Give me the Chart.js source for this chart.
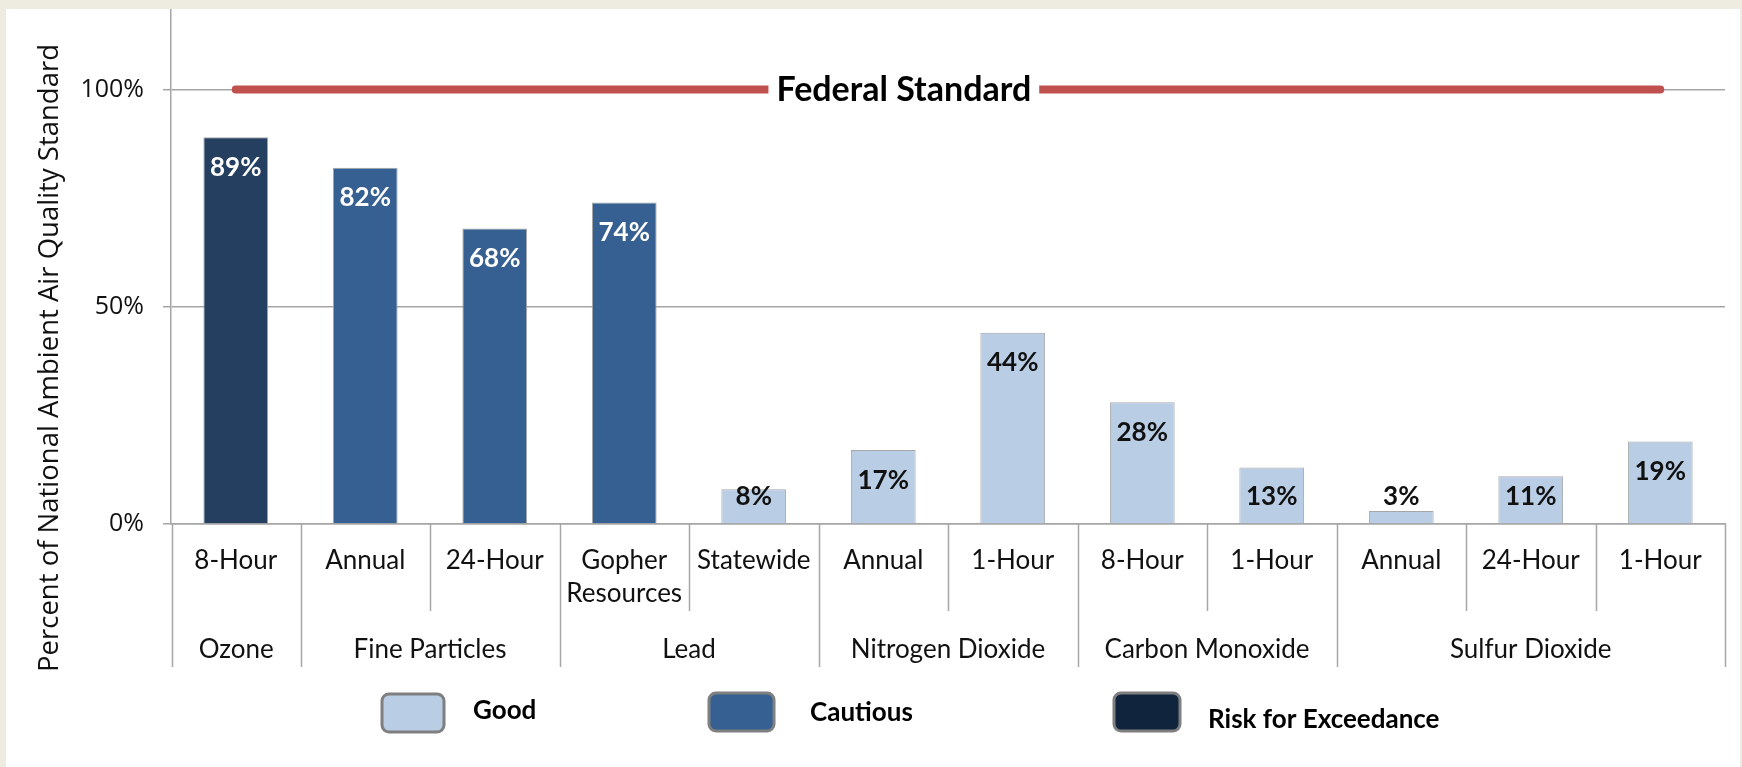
<!DOCTYPE html>
<html>
<head>
<meta charset="utf-8">
<title>Percent of National Ambient Air Quality Standard</title>
<script src="https://cdn.jsdelivr.net/npm/chart.js@4/dist/chart.umd.min.js"></script>
<style>
  html, body { margin: 0; padding: 0; background: #eeebe0; }
  #panel { position: absolute; left: 6px; top: 9px; width: 1734px; height: 758px; background: #ffffff; }
  canvas { display: block; }
</style>
</head>
<body>
<div id="panel"><canvas id="chart" width="1734" height="758"></canvas></div>
<script>
// Datos
const subLabels = ['8-Hour', 'Annual', '24-Hour', ['Gopher', 'Resources'], 'Statewide', 'Annual', '1-Hour', '8-Hour', '1-Hour', 'Annual', '24-Hour', '1-Hour'];
const groupNames = ['Ozone', 'Fine Particles', 'Lead', 'Nitrogen Dioxide', 'Carbon Monoxide', 'Sulfur Dioxide'];
const groupSpans = [1, 2, 2, 2, 2, 3];
const percentOfStandard = [89, 82, 68, 74, 8, 17, 44, 28, 13, 3, 11, 19];
const status = ['Risk', 'Cautious', 'Cautious', 'Cautious', 'Good', 'Good', 'Good', 'Good', 'Good', 'Good', 'Good', 'Good'];
const federalStandard = 100;
const federalLabel = 'Federal Standard';
const yTicks = [0, 50, 100];
const yTitle = 'Percent of National Ambient Air Quality Standard';
const legendLabels = ['Good', 'Cautious', 'Risk for Exceedance'];

const colors = {
  Good: '#b9cde5',
  Cautious: '#376092',
  Risk: '#253f60',
  riskLegend: '#10243e',
  barBorder: '#a6a6a6',
  grid: '#a6a6a6',
  federal: '#c0504d',
  text: '#111111',
};

const catFont = '26px Lato';
const labelFont = 'bold 26px Lato';

// Etiquetas de valor "inside end", sin bajar de la base
const valueLabels = {
  id: 'valueLabels',
  afterDatasetsDraw(chart) {
    const { ctx } = chart;
    const meta = chart.getDatasetMeta(1);
    ctx.save();
    ctx.font = labelFont;
    ctx.textAlign = 'center';
    ctx.textBaseline = 'middle';
    meta.data.forEach((el, i) => {
      const y = Math.min(el.y + 30, el.base - 27);
      ctx.fillStyle = status[i] === 'Good' ? '#111111' : '#ffffff';
      ctx.fillText(percentOfStandard[i] + '%', el.x, y);
    });
    ctx.restore();
  },
};

// Texto sobre la línea roja del estándar federal
const federalText = {
  id: 'federalText',
  afterDatasetsDraw(chart) {
    const { ctx } = chart;
    const pts = chart.getDatasetMeta(0).data;
    const x0 = pts[0].x, x1 = pts[pts.length - 1].x;
    const cx = x0 + (x1 - x0) * 0.469;
    const cy = chart.scales.y.getPixelForValue(federalStandard);
    ctx.save();
    ctx.font = 'bold 34px Lato';
    const w = ctx.measureText(federalLabel).width;
    ctx.fillStyle = '#ffffff';
    ctx.fillRect(cx - w / 2 - 8, cy - 8, w + 16, 16);
    ctx.fillStyle = '#000000';
    ctx.textAlign = 'center';
    ctx.textBaseline = 'middle';
    ctx.fillText(federalLabel, cx, cy + 1);
    ctx.restore();
  },
};

// Eje x de dos niveles: separadores y nombres de contaminante
const groupAxis = {
  id: 'groupAxis',
  afterDraw(chart) {
    const { ctx } = chart;
    const x = chart.scales.x;
    const base = chart.chartArea.bottom;
    const edge = (i) => {
      if (i <= 0) return x.left + 1;
      if (i >= subLabels.length) return x.right;
      return (x.getPixelForTick(i - 1) + x.getPixelForTick(i)) / 2;
    };
    const groupStarts = [];
    let acc = 0;
    groupSpans.forEach((s) => { groupStarts.push(acc); acc += s; });

    ctx.save();
    ctx.strokeStyle = colors.grid;
    ctx.lineWidth = 1.5;
    for (let i = 0; i <= subLabels.length; i++) {
      const isGroupEdge = i === subLabels.length || groupStarts.includes(i);
      const px = Math.round(edge(i)) + 0.5;
      ctx.beginPath();
      ctx.moveTo(px, base);
      ctx.lineTo(px, base + (isGroupEdge ? 143 : 87));
      ctx.stroke();
    }
    ctx.font = catFont;
    ctx.fillStyle = colors.text;
    ctx.textAlign = 'center';
    ctx.textBaseline = 'middle';
    groupNames.forEach((name, g) => {
      const a = edge(groupStarts[g]);
      const b = edge(groupStarts[g] + groupSpans[g]);
      ctx.fillText(name, (a + b) / 2, base + 126);
    });

    // título del eje y
    ctx.save();
    ctx.translate(44, 349);
    ctx.rotate(-Math.PI / 2);
    ctx.font = '27.5px "Open Sans"';
    ctx.fillStyle = colors.text;
    ctx.fillText(yTitle, 0, 0);
    ctx.restore();

    // leyenda
    const items = [
      { label: legendLabels[0], color: colors.Good, box: [376, 685, 62, 38], tx: 467, ty: 702 },
      { label: legendLabels[1], color: colors.Cautious, box: [703, 684, 65, 38], tx: 804, ty: 704 },
      { label: legendLabels[2], color: colors.riskLegend, box: [1108, 684, 66, 38], tx: 1202, ty: 711 },
    ];
    ctx.font = 'bold 26px Lato';
    ctx.textAlign = 'left';
    items.forEach((it) => {
      const [bx, by, bw, bh] = it.box;
      ctx.beginPath();
      ctx.roundRect(bx, by, bw, bh, 7);
      ctx.fillStyle = it.color;
      ctx.fill();
      ctx.lineWidth = 3;
      ctx.strokeStyle = '#7f7f7f';
      ctx.stroke();
      ctx.fillStyle = '#000000';
      ctx.fillText(it.label, it.tx, it.ty);
    });
    ctx.restore();
  },
};

new Chart(document.getElementById('chart'), {
  data: {
    labels: subLabels,
    datasets: [
      {
        type: 'line',
        label: federalLabel,
        data: subLabels.map(() => federalStandard),
        borderColor: colors.federal,
        borderWidth: 8,
        borderCapStyle: 'round',
        pointRadius: 0,
        order: 0,
      },
      {
        type: 'bar',
        label: 'Percent of standard',
        data: percentOfStandard,
        backgroundColor: status.map((s) => colors[s]),
        borderColor: colors.barBorder,
        borderWidth: 1,
        barPercentage: 0.5,
        categoryPercentage: 1,
        order: 1,
      },
    ],
  },
  options: {
    responsive: false,
    animation: false,
    layout: { padding: { left: 0, right: 15, top: 0, bottom: 0 } },
    plugins: { legend: { display: false }, tooltip: { enabled: false } },
    scales: {
      x: {
        offset: true,
        grid: { display: false, drawTicks: false },
        border: { display: true, color: colors.grid, width: 1.5 },
        ticks: {
          font: { family: 'Lato', size: 26, lineHeight: 1.27 },
          color: colors.text,
          padding: 20,
          maxRotation: 0,
          autoSkip: false,
        },
        afterFit(scale) {
          scale.height = 243;
          scale.paddingLeft = 0;
          scale.paddingRight = 0;
        },
      },
      y: {
        min: 0,
        max: 118.5,
        afterBuildTicks(scale) {
          scale.ticks = yTicks.map((v) => ({ value: v }));
        },
        grid: { color: colors.grid, lineWidth: 1.5, tickLength: 8 },
        border: { display: true, color: colors.grid, width: 1.5 },
        ticks: {
          font: { family: 'Open Sans', size: 25 },
          color: colors.text,
          padding: 19,
          callback: (v) => v + '%',
        },
        afterFit(scale) {
          scale.width = 165;
          scale.paddingTop = 0;
          scale.paddingBottom = 0;
        },
      },
    },
  },
  plugins: [valueLabels, federalText, groupAxis],
});
</script>
</body>
</html>
